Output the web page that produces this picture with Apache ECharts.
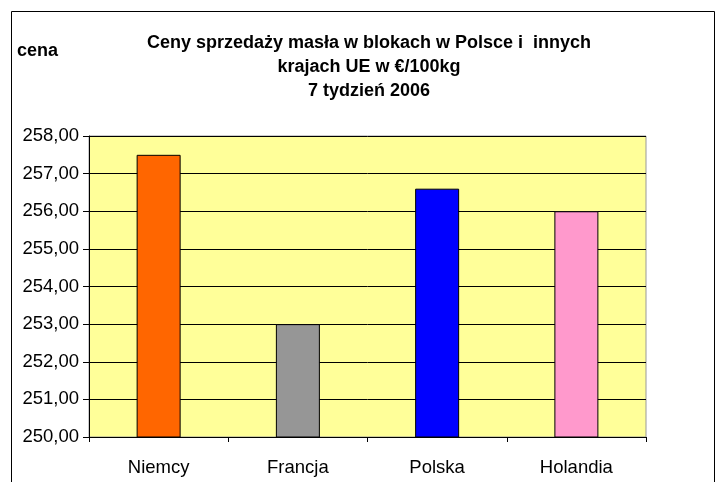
<!DOCTYPE html>
<html><head><meta charset="utf-8">
<script src="https://cdn.jsdelivr.net/npm/echarts@6/dist/echarts.min.js"></script>
<style>html,body{margin:0;padding:0;background:#fff}#c{width:725px;height:482px}</style>
</head><body><div id="c"></div>
<script>
const categories = ['Niemcy', 'Francja', 'Polska', 'Holandia'];
const values = [257.5, 253.0, 256.6, 256.0];
const barColors = ['#FF6600', '#969696', '#0000FF', '#FF99CC'];
const titleLines = ['Ceny sprzedaży masła w blokach w Polsce i  innych', 'krajach UE w €/100kg', '7 tydzień 2006'];
const yAxisName = 'cena';

const chart = echarts.init(document.getElementById('c'), null, {renderer: 'canvas'});
const font = 'Liberation Sans, Arial, sans-serif';
chart.setOption({
  animation: false,
  backgroundColor: '#fff',
  title: {
    text: titleLines.join('\n'),
    left: 369, top: 31, textAlign: 'center', padding: 0,
    textStyle: {fontFamily: font, fontSize: 18, fontWeight: 'bold', color: '#000', lineHeight: 24}
  },
  graphic: [
    {type: 'rect', shape: {x: 11.5, y: 11.5, width: 703, height: 500}, style: {fill: 'none', stroke: '#000', lineWidth: 1}, z: -1},
    {type: 'text', left: 17, top: 42, style: {text: yAxisName, font: 'bold 18px ' + font, fill: '#000'}}
  ],
  grid: {left: 89, right: 79, top: 136, bottom: 45, show: true, backgroundColor: '#FFFF99', borderColor: '#999', borderWidth: 1},
  xAxis: {
    type: 'category', data: categories,
    axisLine: {lineStyle: {color: '#000'}},
    axisTick: {show: true, interval: 0, length: 5, lineStyle: {color: '#000'}},
    axisLabel: {fontFamily: font, fontSize: 18.5, color: '#000', margin: 21}
  },
  yAxis: {
    type: 'value', min: 250, max: 258, interval: 1,
    axisLine: {show: true, lineStyle: {color: '#000'}},
    axisTick: {show: true, length: 6, lineStyle: {color: '#000'}},
    splitLine: {lineStyle: {color: '#000', width: 1}},
    axisLabel: {fontFamily: font, fontSize: 18.5, color: '#000', margin: 10,
      formatter: v => v.toFixed(2).replace('.', ',')}
  },
  series: [{
    type: 'bar', data: values.map((v, i) => ({value: v, itemStyle: {color: barColors[i]}})),
    barWidth: 44,
    itemStyle: {borderColor: '#000', borderWidth: 1}
  }]
});
</script></body></html>
